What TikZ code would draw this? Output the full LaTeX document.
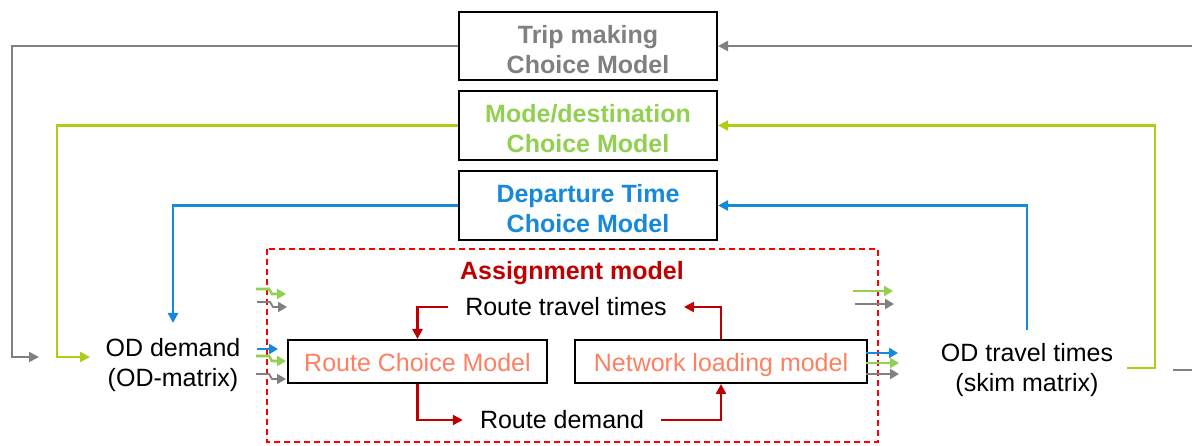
\documentclass[tikz,border=0pt]{standalone}
\usepackage{fontspec}
\setmainfont{Liberation Sans}
\usetikzlibrary{arrows.meta}
\definecolor{cgray}{HTML}{808080}
\definecolor{cgreen}{HTML}{B0CC14}
\definecolor{cgreenT}{HTML}{92D050}
\definecolor{cblue}{HTML}{1689DA}
\definecolor{cred}{HTML}{C00000}
\definecolor{csalmon}{HTML}{FF7F61}
\definecolor{cdash}{HTML}{FF0000}
\newcommand\zigarr[4]{\draw[#1, line width=#2, -{Triangle[length=9pt,width=10pt]}] (#3,#4) -- ++(13,0) -- ++(3,5) -- ++(14,0);}
\newcommand\strarr[5]{\draw[#1, line width=#2, -{Triangle[length=9pt,width=10pt]}] (#3,#5) -- (#4,#5);}
\newcommand\liftstrut{\rule{0pt}{24.5pt}}
\begin{document}
\begin{tikzpicture}[x=1pt,y=-1pt,
  txt/.style={font=\fontsize{25}{30}\selectfont, align=center, inner sep=0pt},
  model/.style={draw=black, line width=2pt, minimum width=258pt, minimum height=68pt, align=center, font=\fontsize{25}{30}\selectfont\bfseries, inner sep=0pt},
  rbox/.style={draw=black, line width=2pt, minimum height=43pt, inner sep=0pt, font=\fontsize{25}{30}\selectfont, text=csalmon, text height=20pt, text depth=0pt},
  tipped/.style={-{Triangle[length=10pt,width=10pt]}},
  grayline/.style={cgray, line width=2pt, tipped},
  greenline/.style={cgreen, line width=2.2pt, tipped},
  blueline/.style={cblue, line width=2.4pt, tipped},
  redline/.style={cred, line width=2.4pt, tipped},
]
\useasboundingbox (0,0) rectangle (1192,446);
\fill[white] (0,0) rectangle (1192,446);

% choice model boxes
\node[model, text=cgray] (trip) at (588,46) {\liftstrut Trip making\\Choice Model};
\node[model, text=cgreenT, minimum height=69pt] (mode) at (588,125.5) {\liftstrut Mode/destination\\Choice Model};
\node[model, text=cblue, minimum height=69pt] (dep) at (588,205.5) {\liftstrut Departure Time\\Choice Model};

% assignment model area
\draw[cdash, line width=2pt, dash pattern=on 6pt off 4pt] (267,249) rectangle (878,442);
\node[txt, font=\fontsize{25}{30}\selectfont\bfseries, text=cred] (asg) at (572,273) {Assignment model};
\node[rbox, minimum width=259pt] (rc) at (417.5,361.5) {Route Choice Model};
\node[rbox, minimum width=292pt] (nl) at (721,361.5) {Network loading model};
\node[txt, inner xsep=17pt] (rtt) at (566,307) {Route travel times};
\node[txt, inner xsep=17pt] (rd) at (562,420) {Route demand};

\draw[redline] (rtt.west) -| (rc.north);
\draw[redline] (rc.south) |- (rd.west);
\draw[redline] (rd.east) -| (nl.south);
\draw[redline] (nl.north) |- (rtt.east);

% OD nodes
\node[txt] (odd) at (173,365) {OD demand\\(OD-matrix)};
\node[txt] (odt) at (1027,370) {OD travel times\\(skim matrix)};

% left feedback lines
\coordinate (gcor) at (12,357);
\coordinate (gtip) at (39,357);
\draw[grayline] (trip.west) -| (gcor) -- (gtip);
\coordinate (lcor) at (57,357);
\coordinate (ltip) at (90,357);
\draw[greenline] (mode.west) -| (lcor) -- (ltip);
\coordinate (btip) at (173,323);
\draw[blueline] (dep.west) -| (btip);

% right feedback lines
\coordinate (gstart) at (1192,46);
\draw[grayline] (gstart) -- (trip.east);
\coordinate (gbA) at (1173,370);
\coordinate (gbB) at (1192,370);
\draw[cgray, line width=2pt] (gbA) -- (gbB);
\coordinate (lstart) at (1127,368);
\coordinate (lcorR) at (1155,125.5);
\draw[greenline] (lstart) -| (lcorR) -- (mode.east);
\coordinate (bstart) at (1027,330);
\draw[blueline] (bstart) |- (dep.east);

% small arrows left
\zigarr{cgreenT}{2.6pt}{256}{289}
\zigarr{cgray}{1.8pt}{257}{302}
\strarr{cblue}{2.6pt}{257}{278}{349}
\zigarr{cgreenT}{2.6pt}{256}{356}
\zigarr{cgray}{1.8pt}{256}{374}

% small arrows right
\strarr{cgreenT}{2.4pt}{853}{893}{291}
\strarr{cgray}{2.4pt}{855}{894}{304}
\strarr{cblue}{2.6pt}{866}{898}{353}
\strarr{cgreenT}{2.6pt}{866}{899}{363}
\strarr{cgray}{2.4pt}{866}{899}{374}
\end{tikzpicture}
\end{document}
